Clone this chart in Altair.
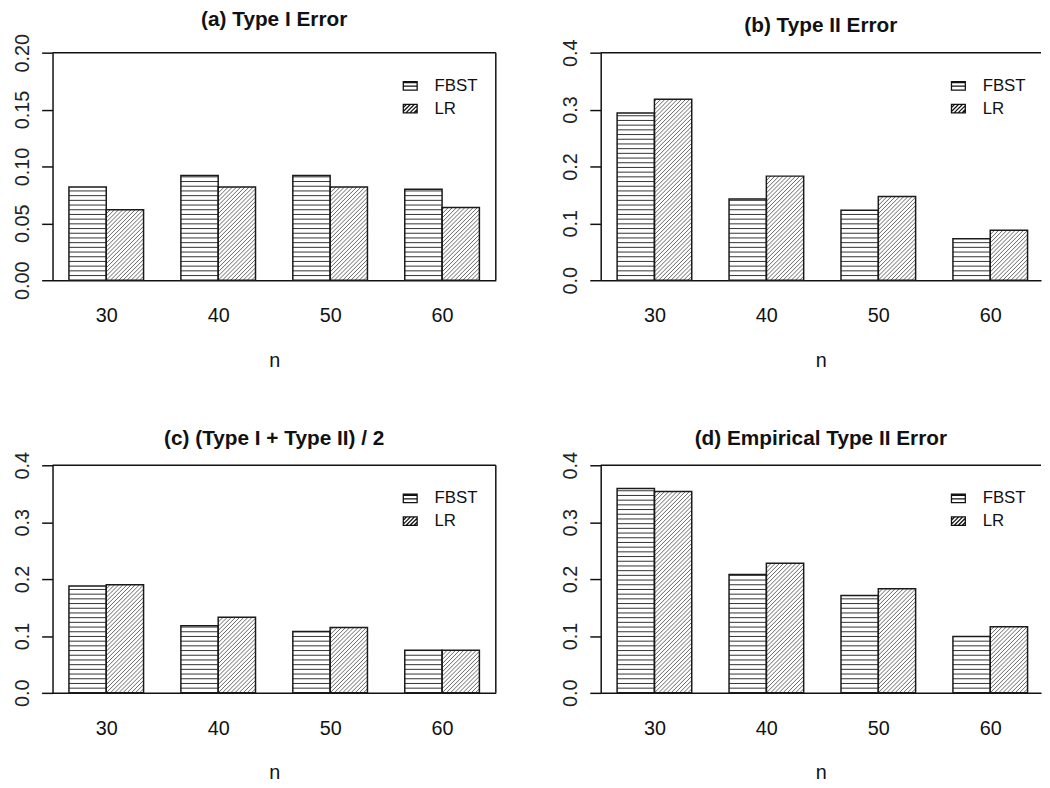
import json
import altair as alt
import pandas as pd

# ---------------- data ----------------
n_labels = ["30", "40", "50", "60"]
methods = ["FBST", "LR"]
titles = [
    "(a) Type I Error",
    "(b) Type II Error",
    "(c) (Type I + Type II) / 2",
    "(d) Empirical Type II Error",
]

a_fbst = [0.082, 0.092, 0.092, 0.080]
a_lr = [0.062, 0.082, 0.082, 0.064]
b_fbst = [0.294, 0.143, 0.123, 0.073]
b_lr = [0.318, 0.183, 0.147, 0.088]
c_fbst = [0.188, 0.118, 0.108, 0.075]
c_lr = [0.190, 0.133, 0.115, 0.075]
d_fbst = [0.359, 0.208, 0.171, 0.099]
d_lr = [0.354, 0.228, 0.183, 0.116]

y_max = [0.20, 0.4, 0.4, 0.4]
y_ticks = [
    [0.0, 0.05, 0.10, 0.15, 0.20],
    [0.0, 0.1, 0.2, 0.3, 0.4],
    [0.0, 0.1, 0.2, 0.3, 0.4],
    [0.0, 0.1, 0.2, 0.3, 0.4],
]
y_formats = [".2f", ".1f", ".1f", ".1f"]
series = [(a_fbst, a_lr), (b_fbst, b_lr), (c_fbst, c_lr), (d_fbst, d_lr)]

# ---------------- style ----------------
FONT = "Liberation Sans"
H = 230
W_LEFT = 448
W_RIGHT = 445
X_LO, X_HI = 0.56, 12.44          # R barplot range (1..12) widened 4%
HATCH_H_PX = 4.75                  # spacing of horizontal hatch (FBST)
HATCH_D_PX = 4.2                   # horizontal spacing of 45deg hatch (LR)

path_fbst = "M-1,-0.62H1V0.62H-1Z M-1,-0.45H1 M-1,0.05H1"
path_lr = ("M-1,-0.62H1V0.62H-1Z M-1,-0.14L-0.52,-0.62 M-1,0.43L0.05,-0.62 "
           "M-0.62,0.62L0.62,-0.62 M-0.05,0.62L1,-0.43 M0.52,0.62L1,0.14")


def make_panel(i):
    fb, lr = series[i]
    rows = []
    for g, n in enumerate(n_labels):
        for k, (m, vals) in enumerate(zip(methods, (fb, lr))):
            xl = 1 + 3 * g + k
            rows.append({"n": n, "method": m, "value": vals[g], "xl": xl, "xr": xl + 1})
    df = pd.DataFrame(rows)

    right = i % 2 == 1
    W = W_RIGHT if right else W_LEFT
    x_hi = X_LO + (X_HI - X_LO) * W / W_LEFT
    ymax = y_max[i]
    PX = W / (x_hi - X_LO)
    PY = H / ymax

    centers = [3 * g + 2 for g in range(len(n_labels))]
    label_expr = f"{json.dumps(n_labels)}[round((datum.value - 2) / 3)]"

    x_axis = alt.Axis(
        values=centers, labelExpr=label_expr, title="n", ticks=False, tickSize=0,
        domain=True, domainColor="#111", domainWidth=1.5, grid=False,
        labelFont=FONT, labelFontSize=20, labelColor="#111", labelPadding=26,
        labelBaseline="top",
        titleFont=FONT, titleFontSize=20, titleFontWeight="normal", titleColor="#111",
        titlePadding=25,
    )
    y_axis = alt.Axis(
        values=y_ticks[i], format=y_formats[i], title=None, grid=False,
        domain=True, domainColor="#111", domainWidth=1.5,
        ticks=True, tickSize=11, tickColor="#111", tickWidth=1.5,
        labelAngle=270, labelAlign="center", labelBaseline="bottom",
        labelFont=FONT, labelFontSize=20, labelColor="#222", labelPadding=9,
    )

    def X(field):
        return alt.X(field, type="quantitative",
                     scale=alt.Scale(domain=[X_LO, x_hi], nice=False, zero=False),
                     axis=x_axis)

    def Y(field):
        return alt.Y(field, type="quantitative",
                     scale=alt.Scale(domain=[0, ymax], nice=False, zero=True),
                     axis=y_axis)

    base = alt.Chart(df)

    step_y = HATCH_H_PX / PY
    hatch_h = (
        base.transform_filter("datum.method == 'FBST'")
        .transform_calculate(hy=f"sequence({step_y}, datum.value, {step_y})")
        .transform_flatten(["hy"])
        .mark_rule(color="#333", strokeWidth=1)
        .encode(x=X("xl"), x2=alt.X2("xr"), y=Y("hy"))
    )

    s = HATCH_D_PX
    hatch_d = (
        base.transform_filter("datum.method == 'LR'")
        .transform_calculate(hp=f"datum.value * {PY}")
        .transform_calculate(c=f"sequence(-floor(datum.hp / {s}) * {s}, {PX}, {s})")
        .transform_flatten(["c"])
        .transform_calculate(
            X1="max(datum.c, 0)",
            Y1="max(-datum.c, 0)",
            X2=f"min(datum.c + datum.hp, {PX})",
        )
        .transform_calculate(
            Y2="datum.X2 - datum.c",
        )
        .transform_calculate(
            dx1=f"datum.xl + datum.X1 / {PX}",
            dy1=f"datum.Y1 / {PY}",
            dx2=f"datum.xl + datum.X2 / {PX}",
            dy2=f"datum.Y2 / {PY}",
        )
        .mark_rule(color="#555", strokeWidth=0.9)
        .encode(x=X("dx1"), x2=alt.X2("dx2"), y=Y("dy1"), y2=alt.Y2("dy2"))
    )

    outline = base.mark_rect(fill="transparent", stroke="#1a1a1a", strokeWidth=1.5).encode(
        x=X("xl"), x2=alt.X2("xr"), y=Y("value"), y2=alt.datum(0)
    )

    legend_layer = (
        base.transform_filter("false")
        .mark_point(filled=False, opacity=1, color="black")
        .encode(
            x=X("xl"), y=Y("value"),
            shape=alt.Shape(
                "method:N",
                scale=alt.Scale(domain=methods, range=[path_fbst, path_lr]),
                legend=alt.Legend(
                    title=None, orient="none", legendX=353, legendY=25,
                    symbolSize=196, symbolStrokeColor="#111", symbolFillColor="white",
                    symbolStrokeWidth=1.3, symbolOpacity=1,
                    labelFont=FONT, labelFontSize=17, labelColor="#111",
                    labelOffset=16, rowPadding=5,
                ),
            ),
        )
    )

    frame_df = pd.DataFrame({"z": [0]})
    top_rule = alt.Chart(frame_df).mark_rule(color="#111", strokeWidth=1.5).encode(
        x=alt.value(0), x2=alt.value(W), y=alt.value(0)
    )
    layers = [hatch_h, hatch_d, outline, legend_layer, top_rule]
    if not right:
        right_rule = alt.Chart(frame_df).mark_rule(color="#111", strokeWidth=1.5).encode(
            x=alt.value(W), y=alt.value(0), y2=alt.value(H)
        )
        layers.append(right_rule)

    return alt.layer(*layers).properties(
        width=W, height=H,
        title=alt.TitleParams(
            titles[i], font=FONT, fontSize=21, fontWeight="bold", color="#111",
            anchor="middle", frame="group", offset=3,
        ),
    )


panels = [make_panel(i) for i in range(4)]

chart = (
    alt.concat(*panels, columns=2, spacing={"row": 58, "column": 65})
    .resolve_scale(shape="independent")
    .resolve_legend(shape="independent")
    .properties(padding={"left": 5, "top": -3, "right": 0, "bottom": 0}, background="white")
    .configure_view(stroke=None)
)

chart.save("out.html", embed_options={"renderer": "svg", "actions": False})
